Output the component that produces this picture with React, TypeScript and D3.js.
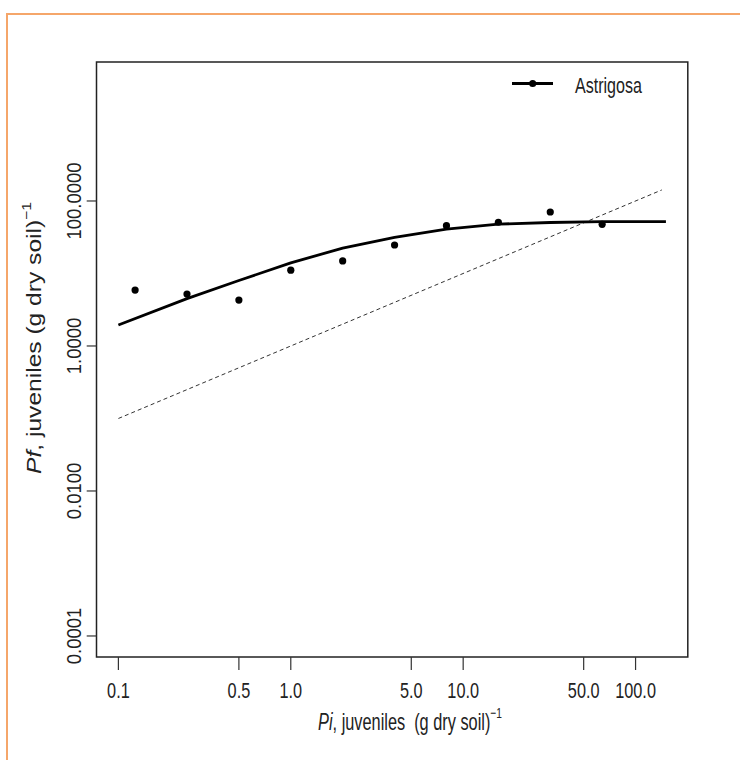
import React from "react";
import * as d3 from "d3";

// ---- data ----
const pointPi = [0.125, 0.25, 0.5, 1, 2, 4, 8, 16, 32, 64];
const pointPf = [5.9, 5.2, 4.3, 11.1, 14.9, 24.7, 45.6, 50.9, 70.5, 47.7];
const fitPi = [0.1, 0.25, 0.5, 1, 2, 4, 8, 16, 32, 64, 150];
const fitPf = [1.95, 4.5, 8.0, 14.0, 22.4, 31.5, 41, 48, 50.5, 51.8, 51.8];
const refPi = [0.1, 142];
const refPf = [0.1, 142];
const xTicks = [0.1, 0.5, 1, 5, 10, 50, 100];
const xTickLabels = ["0.1", "0.5", "1.0", "5.0", "10.0", "50.0", "100.0"];
const yTicks = [0.0001, 0.01, 1, 100];
const yTickLabels = ["0.0001", "0.0100", "1.0000", "100.0000"];
const seriesName = "Astrigosa";

const W = 740;
const H = 760;
const box = { left: 96.5, right: 687.8, top: 62, bottom: 657 };
const FONT = "'Liberation Sans', Arial, sans-serif";

export default function App() {
  const x = d3
    .scaleLog()
    .domain([Math.pow(10, -1.127), Math.pow(10, 2.303)])
    .range([box.left, box.right]);
  const y = d3
    .scaleLog()
    .domain([Math.pow(10, -4.29), Math.pow(10, 3.917)])
    .range([box.bottom, box.top]);

  const fitData = fitPi.map((p, i) => [p, fitPf[i]] as [number, number]);
  const refData = refPi.map((p, i) => [p, refPf[i]] as [number, number]);
  const line = d3
    .line<[number, number]>()
    .x((d) => x(d[0]))
    .y((d) => y(d[1]));

  const legY = 83.5;

  return (
    <svg
      width={W}
      height={H}
      style={{ position: "absolute", left: 0, top: 0, background: "#fff" }}
      fontFamily={FONT}
    >
      <rect x={0} y={0} width={W} height={H} fill="#fff" />
      {/* orange frame */}
      <rect x={7} y={14} width={W + 20} height={H + 20} fill="none" stroke="#F5A66A" strokeWidth={2} />

      {/* reference line Pf = Pi */}
      <path d={line(refData) || ""} fill="none" stroke="#333" strokeWidth={1} strokeDasharray="4,3" />
      {/* fitted curve */}
      <path d={line(fitData) || ""} fill="none" stroke="#000" strokeWidth={2.8} strokeLinejoin="round" />
      {/* observed points */}
      {pointPi.map((p, i) => (
        <circle key={i} cx={x(p)} cy={y(pointPf[i])} r={3.6} fill="#000" />
      ))}

      {/* box */}
      <rect
        x={box.left}
        y={box.top}
        width={box.right - box.left}
        height={box.bottom - box.top}
        fill="none"
        stroke="#222"
        strokeWidth={1.5}
      />

      {/* x axis ticks */}
      {xTicks.map((t, i) => (
        <g key={i}>
          <line x1={x(t)} x2={x(t)} y1={box.bottom} y2={670} stroke="#333" strokeWidth={1.2} />
          <text
            transform={`translate(${x(t)},698) scale(0.74,1)`}
            textAnchor="middle"
            fontSize={22}
            fill="#222"
          >
            {xTickLabels[i]}
          </text>
        </g>
      ))}

      {/* y axis ticks */}
      {yTicks.map((t, i) => (
        <g key={i}>
          <line x1={86.7} x2={box.left} y1={y(t)} y2={y(t)} stroke="#333" strokeWidth={1.2} />
          <text
            transform={`translate(81,${y(t)}) rotate(-90) scale(0.88,1)`}
            textAnchor="middle"
            fontSize={21}
            fill="#222"
          >
            {yTickLabels[i]}
          </text>
        </g>
      ))}

      {/* x title */}
      <text
        transform={`translate(410,730) scale(0.68,1)`}
        textAnchor="middle"
        fontSize={24}
        fill="#222"
        style={{ whiteSpace: "pre" }}
      >
        <tspan fontStyle="italic">Pi</tspan>
        <tspan>{", juveniles  (g dry soil)"}</tspan>
        <tspan fontSize={15} dy={-12}>−1</tspan>
      </text>

      {/* y title */}
      <text
        transform={`translate(41,338) rotate(-90) scale(1.2,1)`}
        textAnchor="middle"
        fontSize={20.5}
        fill="#222"
      >
        <tspan fontStyle="italic">Pf</tspan>
        <tspan>, juveniles (g dry soil)</tspan>
        <tspan fontSize={13} dy={-10}>−1</tspan>
      </text>

      {/* legend */}
      <line x1={512} x2={553} y1={legY} y2={legY} stroke="#000" strokeWidth={2.8} />
      <circle cx={532.7} cy={legY} r={3.6} fill="#000" />
      <text
        transform={`translate(575,92.5) scale(0.73,1)`}
        fontSize={22}
        fill="#222"
      >
        {seriesName}
      </text>
    </svg>
  );
}
